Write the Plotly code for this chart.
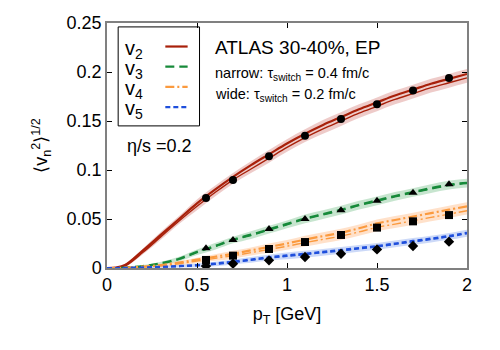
import plotly.graph_objects as go

# hydro curves (narrow / wide tau_switch) on a pT grid
pt = [0, 0.05, 0.1, 0.2, 0.3, 0.4, 0.5, 0.6, 0.7, 0.8, 0.9, 1.0,
      1.1, 1.2, 1.3, 1.4, 1.5, 1.6, 1.7, 1.8, 1.9, 2.0]

v2_narrow = [0, 0.0005, 0.003, 0.018, 0.034, 0.050, 0.066, 0.080, 0.093, 0.105, 0.116,
             0.127, 0.137, 0.146, 0.154, 0.162, 0.169, 0.176, 0.182, 0.188, 0.193, 0.198]
v2_wide = [0, 0.0003, 0.002, 0.016, 0.032, 0.048, 0.063, 0.077, 0.090, 0.101, 0.112,
           0.123, 0.133, 0.142, 0.150, 0.158, 0.165, 0.172, 0.178, 0.184, 0.189, 0.194]
v2_err = [0, 0.0005, 0.001, 0.002, 0.003, 0.003, 0.004, 0.004, 0.004, 0.004, 0.0045,
          0.0045, 0.0045, 0.005, 0.005, 0.005, 0.005, 0.005, 0.005, 0.005, 0.005, 0.005]

v3_narrow = [0, 0, 0.0005, 0.002, 0.005, 0.0095, 0.0165, 0.0225, 0.029, 0.034, 0.0395,
             0.045, 0.0505, 0.055, 0.0595, 0.0645, 0.069, 0.0735, 0.0775, 0.0815, 0.085, 0.087]
v3_wide = [0, 0, 0.0004, 0.0017, 0.0043, 0.0088, 0.0157, 0.0217, 0.0282, 0.0332, 0.0386,
           0.0441, 0.0496, 0.0541, 0.0586, 0.0636, 0.0681, 0.0726, 0.0766, 0.0806, 0.0841, 0.0861]
v3_err = [0, 0, 0.0005, 0.001, 0.0015, 0.002, 0.0025, 0.003, 0.003, 0.0035, 0.0035,
          0.0035, 0.004, 0.004, 0.004, 0.004, 0.004, 0.004, 0.004, 0.004, 0.004, 0.004]

v4_narrow = [0, 0, 0.0003, 0.0015, 0.003, 0.0055, 0.0085, 0.0115, 0.0145, 0.018, 0.0215,
             0.025, 0.029, 0.0325, 0.036, 0.0405, 0.0455, 0.049, 0.0525, 0.056, 0.0595, 0.063]
v4_wide = [0, 0, 0.0002, 0.0011, 0.0022, 0.0044, 0.0071, 0.0098, 0.0125, 0.0157, 0.019,
           0.0222, 0.0259, 0.0292, 0.0325, 0.0368, 0.0415, 0.0448, 0.0482, 0.0516, 0.055, 0.0585]
v4_err = [0, 0, 0.0003, 0.0008, 0.0012, 0.0016, 0.002, 0.0025, 0.003, 0.003, 0.0035,
          0.0035, 0.004, 0.004, 0.004, 0.004, 0.004, 0.004, 0.004, 0.004, 0.004, 0.004]

v5_narrow = [0, 0, 0.0002, 0.0006, 0.0012, 0.002, 0.003, 0.0045, 0.0065, 0.0087, 0.011,
             0.0128, 0.0146, 0.0165, 0.0184, 0.0204, 0.0224, 0.025, 0.0276, 0.030, 0.0327, 0.036]
v5_wide = [0, 0, 0.0001, 0.0004, 0.0008, 0.0014, 0.0023, 0.0037, 0.0056, 0.0078, 0.0101,
           0.0119, 0.0137, 0.0156, 0.0175, 0.0195, 0.0215, 0.0241, 0.0267, 0.0291, 0.0318, 0.035]
v5_err = [0, 0, 0.0002, 0.0005, 0.0008, 0.001, 0.0015, 0.002, 0.002, 0.0025, 0.0025,
          0.003, 0.003, 0.003, 0.003, 0.003, 0.003, 0.003, 0.003, 0.003, 0.003, 0.003]

# ATLAS 30-40% EP data
pt_data = [0.55, 0.7, 0.9, 1.1, 1.3, 1.5, 1.7, 1.9]
v2_data = [0.0714, 0.0898, 0.114, 0.135, 0.152, 0.167, 0.181, 0.194]
v3_data = [0.0201, 0.0286, 0.0398, 0.050, 0.059, 0.0687, 0.0769, 0.0854]
v4_data = [0.0082, 0.0126, 0.0194, 0.0265, 0.0337, 0.0412, 0.0476, 0.054]
v5_data = [0.002, 0.0044, 0.0078, 0.0112, 0.0146, 0.019, 0.0224, 0.0269]

FONT = 'Liberation Sans, Arial, sans-serif'

harmonics = [
    # name, narrow, wide, err, data, marker, color, band, dash
    ('v<sub>2</sub>', v2_narrow, v2_wide, v2_err, v2_data, 'circle', '#a8200a', 'rgba(195,70,60,0.28)', 'solid'),
    ('v<sub>3</sub>', v3_narrow, v3_wide, v3_err, v3_data, 'triangle-up', '#178a3a', 'rgba(80,175,105,0.32)', '9px,5px'),
    ('v<sub>4</sub>', v4_narrow, v4_wide, v4_err, v4_data, 'square', '#fb9a3e', 'rgba(255,175,115,0.38)', '9px,3px,2px,3px'),
    ('v<sub>5</sub>', v5_narrow, v5_wide, v5_err, v5_data, 'diamond', '#1f4fdc', 'rgba(110,145,235,0.35)', '5px,3px'),
]

fig = go.Figure()

# bands
for name, nar, wid, err, dat, sym, col, band, dash in harmonics:
    lo = [min(a, b) - e for a, b, e in zip(nar, wid, err)]
    hi = [max(a, b) + e for a, b, e in zip(nar, wid, err)]
    fig.add_trace(go.Scatter(x=pt, y=lo, mode='lines', line=dict(width=0, shape='spline'),
                             showlegend=False, hoverinfo='skip'))
    fig.add_trace(go.Scatter(x=pt, y=hi, mode='lines', line=dict(width=0, shape='spline'),
                             fill='tonexty', fillcolor=band, showlegend=False, hoverinfo='skip'))

# lines
for name, nar, wid, err, dat, sym, col, band, dash in harmonics:
    fig.add_trace(go.Scatter(x=pt, y=nar, mode='lines', showlegend=False,
                             line=dict(color=col, width=2.2, dash=dash, shape='spline')))
    fig.add_trace(go.Scatter(x=pt, y=wid, mode='lines', showlegend=False,
                             line=dict(color=col, width=1.4, dash=dash, shape='spline')))

# data points
for name, nar, wid, err, dat, sym, col, band, dash in harmonics:
    fig.add_trace(go.Scatter(x=pt_data, y=dat, mode='markers', showlegend=False,
                             marker=dict(symbol=sym, color='black', size=8)))

# hand made legend: label on the left, line sample on the right
leg_y = [0.892, 0.81, 0.727, 0.645]
for (name, nar, wid, err, dat, sym, col, band, dash), yy in zip(harmonics, leg_y):
    fig.add_annotation(x=0.045, y=yy, xref='paper', yref='paper', text=name,
                       showarrow=False, xanchor='left', yanchor='middle',
                       font=dict(size=20, color='black', family=FONT))
    fig.add_shape(type='line', xref='paper', yref='paper', x0=0.162, x1=0.224,
                  y0=yy + 0.012, y1=yy + 0.012, line=dict(color=col, width=2.2, dash=dash))
fig.add_shape(type='rect', xref='paper', yref='paper', x0=0.031, x1=0.257, y0=0.58, y1=0.984,
              line=dict(color='black', width=1), fillcolor='rgba(0,0,0,0)')

fig.add_annotation(x=0.295, y=0.898, xref='paper', yref='paper', text='ATLAS 30-40%, EP',
                   showarrow=False, xanchor='left', yanchor='middle',
                   font=dict(size=19, color='black', family=FONT))
fig.add_annotation(x=0.295, y=0.79, xref='paper', yref='paper',
                   text='narrow: τ<sub>switch</sub> = 0.4 fm/c',
                   showarrow=False, xanchor='left', yanchor='middle',
                   font=dict(size=14.5, color='black', family=FONT))
fig.add_annotation(x=0.295, y=0.705, xref='paper', yref='paper',
                   text='wide: τ<sub>switch</sub> = 0.2 fm/c',
                   showarrow=False, xanchor='left', yanchor='middle',
                   font=dict(size=14.5, color='black', family=FONT))
fig.add_annotation(x=0.05, y=0.497, xref='paper', yref='paper', text='η/s =0.2',
                   showarrow=False, xanchor='left', yanchor='middle',
                   font=dict(size=18, color='black', family=FONT))

axis_style = dict(showgrid=False, zeroline=False, showline=True, linecolor='#808080',
                  linewidth=1.5, mirror='ticks', ticks='inside', ticklen=5, automargin=False,
                  tickcolor='black', tickfont=dict(size=18, color='black', family=FONT))

fig.update_xaxes(range=[0, 2], dtick=0.5, title=dict(text='p<sub>T</sub> [GeV]', standoff=13,
                 font=dict(size=18, color='black', family=FONT)), **axis_style)
fig.update_yaxes(range=[0, 0.25], dtick=0.05,
                 title=dict(text='⟨v<sub>n</sub><sup>2</sup>⟩<sup>1/2</sup>', standoff=14,
                            font=dict(size=18, color='black', family=FONT)), **axis_style)

# page body adds an 8px offset, so margins are pulled in by that much
fig.update_layout(width=500, height=350, margin=dict(l=99, r=41, t=15, b=90),
                  plot_bgcolor='white', paper_bgcolor='white',
                  font=dict(family=FONT, color='black'))

fig.write_html("out.html")
